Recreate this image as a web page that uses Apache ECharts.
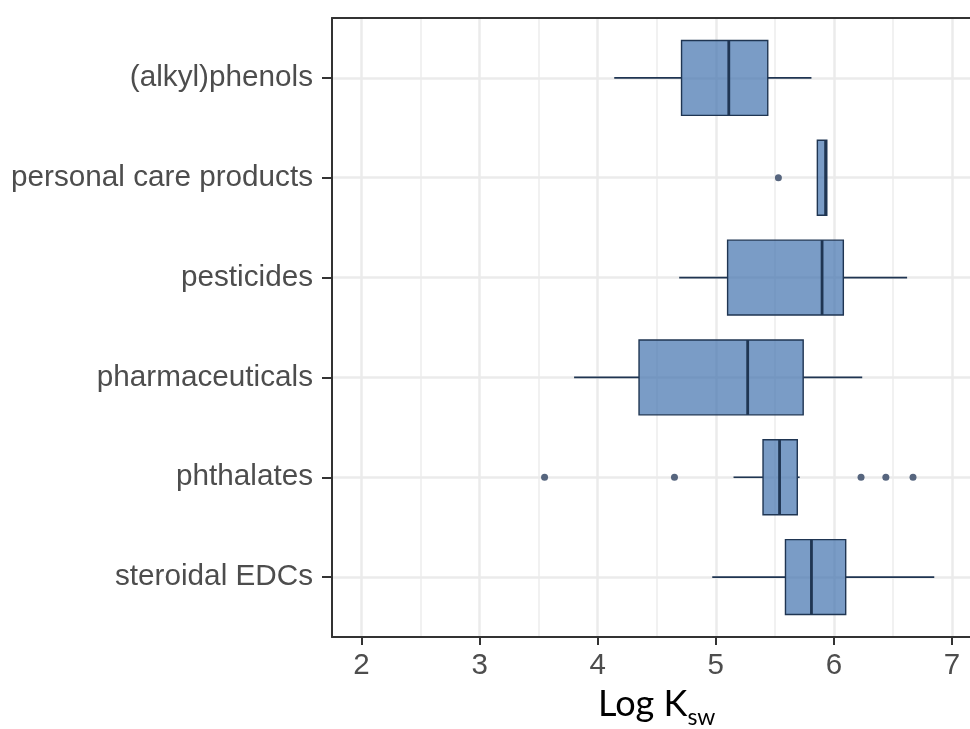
<!DOCTYPE html>
<html><head><meta charset="utf-8">
<script src="https://cdn.jsdelivr.net/npm/echarts@6/dist/echarts.min.js"></script>
<style>html,body{margin:0;padding:0;background:#fff}#c{width:970px;height:729px}</style>
</head><body><div id="c"></div>
<script>
const categories = ['(alkyl)phenols', 'personal care products', 'pesticides', 'pharmaceuticals', 'phthalates', 'steroidal EDCs'];
const lowWhisker  = [4.14, 5.86, 4.69, 3.80, 5.15, 4.97];
const q1          = [4.71, 5.86, 5.10, 4.35, 5.40, 5.59];
const median      = [5.11, 5.93, 5.90, 5.27, 5.54, 5.81];
const q3          = [5.44, 5.94, 6.08, 5.74, 5.69, 6.10];
const highWhisker = [5.81, 5.94, 6.62, 6.24, 5.71, 6.85];
const outlierCategory = [1, 4, 4, 4, 4, 4];
const outlierValue    = [5.53, 3.55, 4.65, 6.23, 6.44, 6.67];
const xMajorTicks = [2, 3, 4, 5, 6, 7];
const xMinorTicks = [2.5, 3.5, 4.5, 5.5, 6.5];
const xRange = [1.75, 7.25];
const yRange = [-0.6, 5.6];
const yTicks = categories.map((c, i) => i);

const BOX_W = 0.75;
const fillColor = 'rgba(65,114,174,0.70)';
const strokeColor = '#1f3552';
const axisColor = '#333333';
const labelColor = '#4d4d4d';
const FONT = 'Liberation Sans';

const chart = echarts.init(document.getElementById('c'), null, {renderer: 'canvas'});

const gridLines = []
  .concat(xMajorTicks.map(v => ({xAxis: v, lineStyle: {color: '#ebebeb', width: 2.5, type: 'solid'}})))
  .concat(xMinorTicks.map(v => ({xAxis: v, lineStyle: {color: '#ededed', width: 1.5, type: 'solid'}})))
  .concat(yTicks.map(v => ({yAxis: v, lineStyle: {color: '#ebebeb', width: 2.5, type: 'solid'}})));

const option = {
  animation: false,
  backgroundColor: '#ffffff',
  grid: {left: 332, top: 18, bottom: 92, right: -11.5, containLabel: false, outerBoundsMode: 'none'},
  xAxis: [{
    type: 'value', min: xRange[0], max: xRange[1], position: 'bottom', z: 5,
    axisLine: {show: true, onZero: false, lineStyle: {color: axisColor, width: 2}},
    axisTick: {show: true, customValues: xMajorTicks, length: 8, lineStyle: {color: axisColor, width: 2}},
    axisLabel: {show: true, customValues: xMajorTicks, fontSize: 29.5, color: labelColor, margin: 14, fontFamily: FONT},
    splitLine: {show: false},
    name: '{a|Log K}{b|sw}', nameLocation: 'middle', nameGap: 38,
    nameTextStyle: {
      rich: {
        a: {fontFamily: 'Lato', fontSize: 36, color: '#000'},
        b: {fontFamily: 'Lato', fontSize: 23, color: '#000', padding: [28, 0, 0, 0]}
      }
    }
  }, {
    type: 'value', min: xRange[0], max: xRange[1], position: 'top', z: 5,
    axisLine: {show: true, onZero: false, lineStyle: {color: axisColor, width: 2}},
    axisTick: {show: false}, axisLabel: {show: false}, splitLine: {show: false}
  }],
  yAxis: [{
    type: 'value', min: yRange[0], max: yRange[1], inverse: true, z: 5,
    axisLine: {show: true, onZero: false, lineStyle: {color: axisColor, width: 2}},
    axisTick: {show: true, customValues: yTicks, length: 10, lineStyle: {color: axisColor, width: 2}},
    axisLabel: {show: true, customValues: yTicks, fontSize: 29.7, color: labelColor, margin: 19, fontFamily: FONT,
      padding: [4, 0, 0, 0],
      formatter: v => categories[Math.round(v)]},
    splitLine: {show: false}
  }],
  series: [{
    type: 'scatter', name: 'grid', data: [], z: 1, silent: true,
    markLine: {symbol: 'none', silent: true, animation: false, z: 1, label: {show: false}, data: gridLines}
  }, {
    type: 'custom', name: 'box', z: 3,
    data: categories.map((c, i) => [i, lowWhisker[i], q1[i], median[i], q3[i], highWhisker[i]]),
    encode: {x: [1, 2, 3, 4, 5], y: 0},
    renderItem: function (params, api) {
      const yi = api.value(0);
      const lo = api.coord([api.value(1), yi]);
      const a = api.coord([api.value(2), yi]);
      const md = api.coord([api.value(3), yi]);
      const b = api.coord([api.value(4), yi]);
      const hi = api.coord([api.value(5), yi]);
      const h = api.size([0, BOX_W])[1];
      return {
        type: 'group',
        children: [
          {type: 'line', shape: {x1: lo[0], y1: lo[1], x2: a[0], y2: a[1]}, style: {stroke: strokeColor, lineWidth: 1.6}},
          {type: 'line', shape: {x1: b[0], y1: b[1], x2: hi[0], y2: hi[1]}, style: {stroke: strokeColor, lineWidth: 1.6}},
          {type: 'rect', shape: {x: a[0], y: a[1] - h / 2, width: b[0] - a[0], height: h}, style: {fill: fillColor, stroke: strokeColor, lineWidth: 1.4}},
          {type: 'line', shape: {x1: md[0], y1: md[1] - h / 2, x2: md[0], y2: md[1] + h / 2}, style: {stroke: strokeColor, lineWidth: 2.8}}
        ]
      };
    }
  }, {
    type: 'scatter', name: 'outliers', z: 4,
    data: outlierValue.map((v, i) => [v, outlierCategory[i]]),
    symbolSize: 7,
    itemStyle: {color: '#56657e', opacity: 1}
  }]
};
chart.setOption(option);
</script>
</body></html>
